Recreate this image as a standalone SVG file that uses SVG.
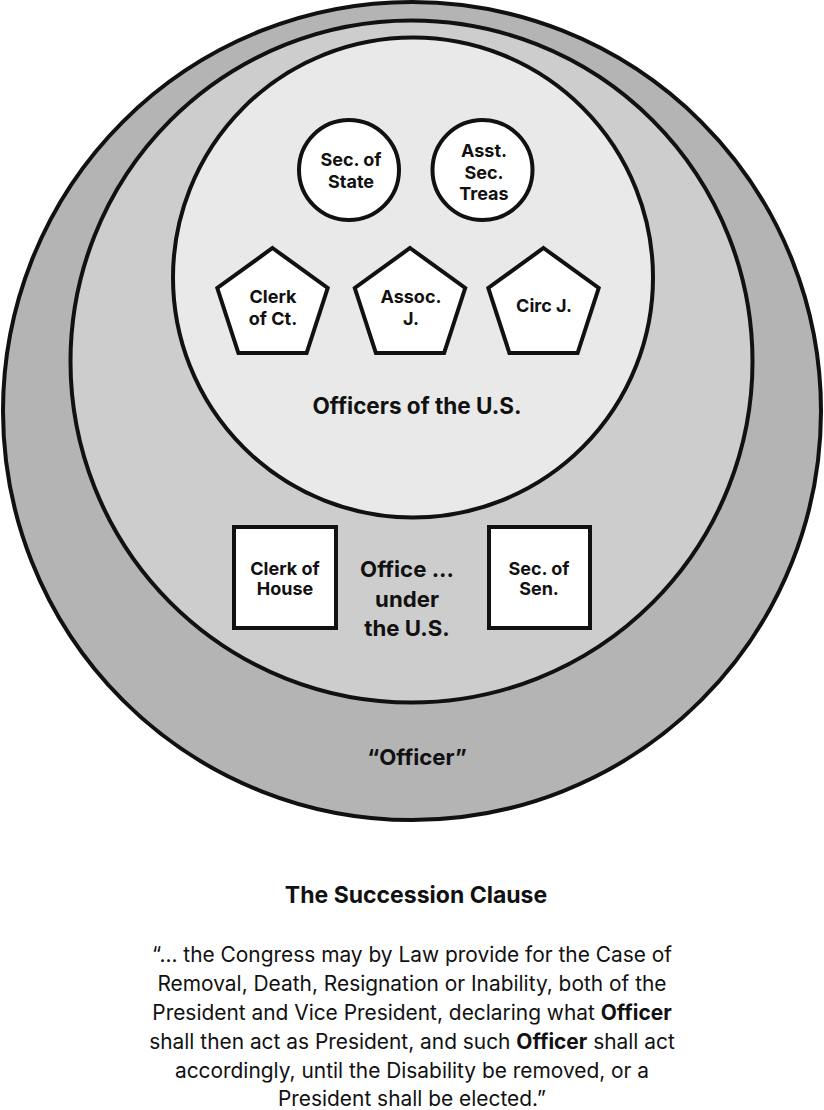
<svg xmlns="http://www.w3.org/2000/svg" width="824" height="1110" viewBox="0 0 824 1110">
<style>
.ring{stroke:#111;stroke-width:4}
.node{fill:#fff;stroke:#111;stroke-width:4}
.t{font-family:Inter,"Liberation Sans",sans-serif;font-weight:700;fill:#111;text-anchor:middle}
.s{font-size:18px}
.m{font-size:22.2px}
.p{font-family:Inter,"Liberation Sans",sans-serif;font-weight:400;font-size:20.9px;fill:#111;text-anchor:middle}
.b{font-weight:700}
</style>
<rect width="824" height="1110" fill="#fff"/>
<g id="officer">
<circle class="ring" cx="412" cy="411" r="409" fill="#b4b4b4"/>
<text class="t m" x="417" y="765">“Officer”</text>
</g>
<g id="office-under">
<circle class="ring" cx="411.5" cy="361.5" r="341" fill="#cdcdcd"/>
<text class="t m" x="407" y="577">Office ...</text>
<text class="t m" x="407" y="607">under</text>
<text class="t m" x="407" y="636">the U.S.</text>
</g>
<g id="officers-us">
<circle class="ring" cx="413" cy="277.5" r="240" fill="#e9e9e9"/>
<text class="t" x="417" y="414" font-size="22.5">Officers of the U.S.</text>
</g>
<g id="sec-state">
<circle class="node" cx="349" cy="170" r="50"/>
<text class="t s" x="351" y="166">Sec. of</text>
<text class="t s" x="351" y="188">State</text>
</g>
<g id="asst-sec-treas">
<circle class="node" cx="482.5" cy="170" r="50"/>
<text class="t s" x="484" y="157">Asst.</text>
<text class="t s" x="484" y="179">Sec.</text>
<text class="t s" x="484" y="200">Treas</text>
</g>
<g id="clerk-ct">
<polygon class="node" points="272.5,248 327.7,288 306.6,353 238.4,353 217.3,288"/>
<text class="t s" x="273" y="303">Clerk</text>
<text class="t s" x="273" y="325">of Ct.</text>
</g>
<g id="assoc-j">
<polygon class="node" points="410,248 465.2,288 444.1,353 375.9,353 354.8,288"/>
<text class="t s" x="411" y="303">Assoc.</text>
<text class="t s" x="411" y="325">J.</text>
</g>
<g id="circ-j">
<polygon class="node" points="543.5,248 598.7,288 577.6,353 509.4,353 488.3,288"/>
<text class="t s" x="544" y="312">Circ J.</text>
</g>
<g id="clerk-house">
<rect class="node" x="234" y="527" width="102" height="101"/>
<text class="t s" x="285" y="575">Clerk of</text>
<text class="t s" x="285" y="595">House</text>
</g>
<g id="sec-sen">
<rect class="node" x="489" y="527" width="101" height="101"/>
<text class="t s" x="539" y="575">Sec. of</text>
<text class="t s" x="539" y="595">Sen.</text>
</g>
<g id="connectors"/>
<g id="caption">
<text class="t" x="416" y="903" font-size="23">The Succession Clause</text>
<text class="p" x="412" y="962">“... the Congress may by Law provide for the Case of</text>
<text class="p" x="412" y="991">Removal, Death, Resignation or Inability, both of the</text>
<text class="p" x="412" y="1020">President and Vice President, declaring what <tspan class="b">Officer</tspan></text>
<text class="p" x="412" y="1049">shall then act as President, and such <tspan class="b">Officer</tspan> shall act</text>
<text class="p" x="412" y="1078">accordingly, until the Disability be removed, or a</text>
<text class="p" x="412" y="1106">President shall be elected.”</text>
</g>
</svg>
